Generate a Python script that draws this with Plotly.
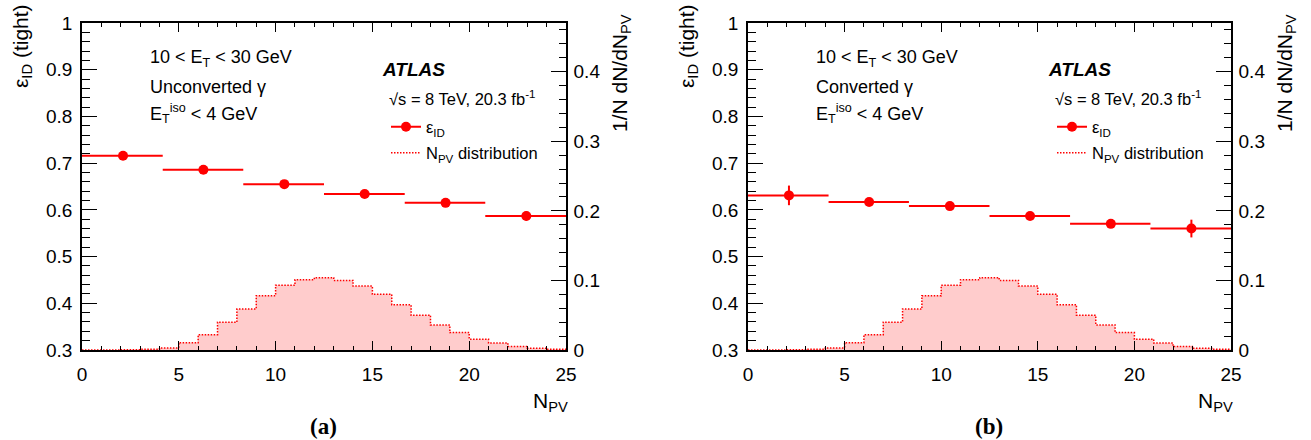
import plotly.graph_objects as go

# ---------------- data ----------------
npv_edges = list(range(0, 26))
npv_dist = [0.0, 0.0, 0.0005, 0.001, 0.003, 0.0106, 0.022, 0.040, 0.059, 0.078,
            0.093, 0.101, 0.104, 0.100, 0.092, 0.080, 0.065, 0.050, 0.036, 0.025,
            0.0155, 0.010, 0.005, 0.0024, 0.001]

bin_lo = [0.0, 4.17, 8.33, 12.5, 16.67, 20.83]
bin_hi = [4.17, 8.33, 12.5, 16.67, 20.83, 25.0]
npv_mean = [2.12, 6.27, 10.45, 14.6, 18.78, 22.95]

eff_unconv = [0.716, 0.686, 0.655, 0.634, 0.615, 0.587]
err_unconv = [0.003, 0.003, 0.003, 0.004, 0.005, 0.010]
eff_conv = [0.631, 0.617, 0.608, 0.587, 0.570, 0.560]
err_conv = [0.021, 0.006, 0.006, 0.007, 0.008, 0.019]

W, H = 1311, 440
RED = "#ff0000"
PINK = "#ffcccc"
SANS = "Liberation Sans, Arial, sans-serif"
SERIF = "Liberation Serif, Times New Roman, serif"
DOT = "1.5px,1.5px"

def px(x):
    return x / W

def py(y):
    return 1 - y / H

fig = go.Figure()

panels = [
    dict(xa="x", ya="y", ya2="y2", eff=eff_unconv, err=err_unconv, x0=82, x1=566,
         lab="Unconverted γ", tag="(a)", leg=("legend", "legend2")),
    dict(xa="x2", ya="y3", ya2="y4", eff=eff_conv, err=err_conv, x0=748, x1=1231,
         lab="Converted γ", tag="(b)", leg=("legend3", "legend4")),
]

hist_x = npv_edges
hist_y = npv_dist + [npv_dist[-1]]
err_plus = [h - m for h, m in zip(bin_hi, npv_mean)]
err_minus = [m - l for l, m in zip(bin_lo, npv_mean)]

annotations = []
legends = {}
for p in panels:
    fig.add_trace(go.Scatter(
        x=hist_x, y=hist_y, xaxis=p["xa"], yaxis=p["ya2"], mode="lines",
        line=dict(shape="hv", color=RED, width=1.5, dash=DOT),
        fill="tozeroy", fillcolor=PINK, showlegend=False, hoverinfo="skip"))
    fig.add_trace(go.Scatter(
        x=npv_mean, y=p["eff"], xaxis=p["xa"], yaxis=p["ya"], mode="markers",
        marker=dict(color=RED, size=10, symbol="circle"),
        error_x=dict(type="data", symmetric=False, array=err_plus, arrayminus=err_minus,
                     color=RED, thickness=2, width=0),
        error_y=dict(type="data", array=p["err"], color=RED, thickness=2, width=0),
        showlegend=False))
    fig.add_trace(go.Scatter(
        x=[None], y=[None], xaxis=p["xa"], yaxis=p["ya"], mode="lines+markers",
        name="ε<sub>ID</sub>", line=dict(color=RED, width=2),
        marker=dict(color=RED, size=10), legend=p["leg"][0]))
    fig.add_trace(go.Scatter(
        x=[None], y=[None], xaxis=p["xa"], yaxis=p["ya"], mode="lines",
        name="N<sub>PV</sub> distribution", line=dict(color=RED, width=1.5, dash=DOT),
        legend=p["leg"][1]))

    x0 = p["x0"]
    tf = dict(family=SANS, size=18, color="black")
    annotations += [
        dict(text="10 &lt; E<sub>T</sub> &lt; 30 GeV", x=px(x0 + 66), y=py(59), font=tf),
        dict(text=p["lab"], x=px(x0 + 66), y=py(87), font=tf),
        dict(text="E<sub>T</sub><sup>iso</sup> &lt; 4 GeV", x=px(x0 + 66), y=py(113), font=tf),
        dict(text="<b><i>ATLAS</i></b>", x=px(x0 + 298), y=py(69),
             font=dict(family=SANS, size=19, color="black")),
        dict(text="√s = 8 TeV, 20.3 fb<sup>-1</sup>", x=px(x0 + 305), y=py(98),
             font=dict(family=SANS, size=16.5, color="black")),
    ]
    for a in annotations[-5:]:
        a.update(xref="paper", yref="paper", xanchor="left", yanchor="middle", showarrow=False)
    annotations += [
        dict(text="ε<sub>ID</sub> (tight)", x=px(x0 - 60), y=py(2), textangle=-90,
             xanchor="center", yanchor="top", font=dict(family=SANS, size=21, color="black")),
        dict(text="1/N dN/dN<sub>PV</sub>", x=px(p["x1"] + 55), y=py(12), textangle=-90,
             xanchor="center", yanchor="top", font=dict(family=SANS, size=21, color="black")),
        dict(text="N<sub>PV</sub>", x=px(p["x1"] + 4), y=py(402), xanchor="right",
             yanchor="middle", font=dict(family=SANS, size=21, color="black")),
        dict(text="<b>" + p["tag"] + "</b>", x=px((x0 + p["x1"]) / 2 - 1), y=py(426),
             xanchor="center", yanchor="middle", font=dict(family=SERIF, size=23, color="black")),
    ]
    for a in annotations[-4:]:
        a.update(xref="paper", yref="paper", showarrow=False)

tickfont = dict(family=SANS, size=19, color="black")
ydom = [py(350), py(23)]

def xaxis_def(x0, x1, anchor):
    return dict(domain=[px(x0), px(x1)], range=[0, 25], anchor=anchor, dtick=5,
                ticks="inside", ticklen=9, tickwidth=1.2, tickcolor="black",
                minor=dict(dtick=1, ticks="inside", ticklen=4.5, tickwidth=1, tickcolor="black"),
                showline=True, linewidth=1.5, linecolor="black", mirror="ticks",
                showgrid=False, zeroline=False, tickfont=tickfont, automargin=False,
                ticklabelstandoff=6)

def yaxis_def(anchor):
    return dict(domain=ydom, range=[0.3, 1.0], anchor=anchor, dtick=0.1, tick0=0,
                ticks="inside", ticklen=15, tickwidth=1.2, tickcolor="black",
                minor=dict(dtick=0.02, ticks="inside", ticklen=8, tickwidth=1, tickcolor="black"),
                showline=True, linewidth=1.5, linecolor="black", mirror=False,
                showgrid=False, zeroline=False, tickfont=tickfont, automargin=False,
                ticklabelstandoff=4)

def yaxis2_def(anchor, over):
    return dict(domain=ydom, range=[0, 0.47], anchor=anchor, overlaying=over, side="right",
                dtick=0.1, tick0=0, ticks="inside", ticklen=15, tickwidth=1.2, tickcolor="black",
                minor=dict(dtick=0.02, ticks="inside", ticklen=7, tickwidth=1, tickcolor="black"),
                showline=True, linewidth=1.5, linecolor="black",
                showgrid=False, zeroline=False, tickfont=tickfont, automargin=False,
                ticklabelstandoff=2)

legfont = dict(family=SANS, size=16.5, color="black")

def leg(x, y):
    return dict(x=px(x), y=py(y), xanchor="left", yanchor="middle", bgcolor="rgba(0,0,0,0)",
                borderwidth=0, font=legfont, xref="paper", yref="paper")

fig.update_layout(
    width=W, height=H, margin=dict(l=0, r=0, t=0, b=0),
    paper_bgcolor="white", plot_bgcolor="white",
    xaxis=xaxis_def(82, 566, "y"),
    yaxis=yaxis_def("x"),
    yaxis2=yaxis2_def("x", "y"),
    xaxis2=xaxis_def(748, 1231, "y3"),
    yaxis3=yaxis_def("x2"),
    yaxis4=yaxis2_def("x2", "y3"),
    legend=leg(386, 127), legend2=leg(386, 153),
    legend3=leg(1052, 127), legend4=leg(1052, 153),
    annotations=annotations,
)

fig.write_html("out.html", config={"displayModeBar": False},
               post_script="document.body.style.margin='0';document.body.style.padding='0';")
